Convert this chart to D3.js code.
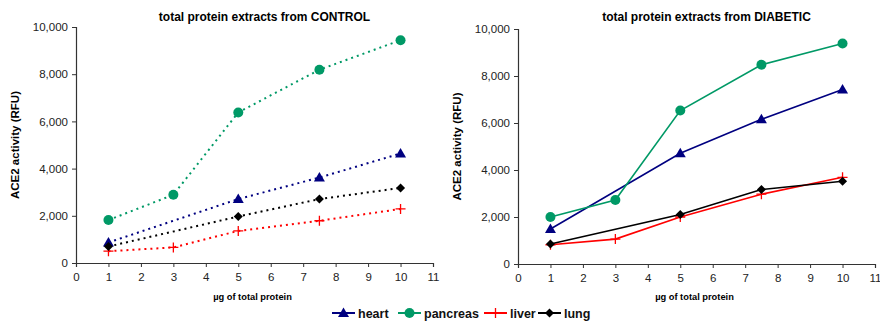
<!DOCTYPE html>
<html>
<head>
<meta charset="utf-8">
<script src="https://cdn.jsdelivr.net/npm/d3@7"></script>
<style>
body { margin: 0; background: #fff; }
svg { font-family: "Liberation Sans", Arial, sans-serif; }
</style>
</head>
<body>
<div id="chart"></div>
<script>
// doses (µg of total protein)
const doses = [1, 3, 5, 7.5, 10];
const seriesNames = ["heart", "pancreas", "liver", "lung"];
const xTicks = [0, 1, 2, 3, 4, 5, 6, 7, 8, 9, 10, 11];
const yTicks = [0, 2000, 4000, 6000, 8000, 10000];

// CONTROL panel (null = no point measured)
const ctrlHeart    = [870, null, 2710, 3620, 4640];
const ctrlPancreas = [1820, 2890, 6380, 8190, 9440];
const ctrlLiver    = [500, 660, 1360, 1790, 2290];
const ctrlLung     = [700, null, 1970, 2710, 3180];

// DIABETIC panel
const diabHeart    = [1490, null, 4710, 6160, 7430];
const diabPancreas = [2000, 2720, 6530, 8480, 9380];
const diabLiver    = [820, 1060, 2000, 2970, 3690];
const diabLung     = [850, null, 2110, 3170, 3520];

const colors = {heart: "#000080", pancreas: "#009966", liver: "#ff0000", lung: "#000000"};

const W = 880, H = 322;
const svg = d3.select("#chart").append("svg")
	.attr("width", W)
	.attr("height", H);

const panels = [
	{title: "total protein extracts from CONTROL", left: 76, right: 433, top: 27, bottom: 263, dashed: true,
	 data: {heart: ctrlHeart, pancreas: ctrlPancreas, liver: ctrlLiver, lung: ctrlLung}},
	{title: "total protein extracts from DIABETIC", left: 518, right: 875, top: 29, bottom: 264, dashed: false,
	 data: {heart: diabHeart, pancreas: diabPancreas, liver: diabLiver, lung: diabLung}}
];

function drawMarker(g, name, x, y) {
	const c = colors[name];
	if (name === "heart") {
		g.append("path").attr("d", "M" + x + "," + (y - 5.5) + "L" + (x + 5.5) + "," + (y + 4) + "L" + (x - 5.5) + "," + (y + 4) + "Z")
			.attr("fill", c);
	} else if (name === "pancreas") {
		g.append("circle").attr("cx", x).attr("cy", y).attr("r", 5).attr("fill", c);
	} else if (name === "liver") {
		g.append("path").attr("d", "M" + (x - 5) + "," + y + "H" + (x + 5) + "M" + x + "," + (y - 5) + "V" + (y + 5))
			.attr("stroke", c).attr("stroke-width", 1.3);
	} else {
		g.append("path").attr("d", "M" + x + "," + (y - 4.5) + "L" + (x + 4.5) + "," + y + "L" + x + "," + (y + 4.5) + "L" + (x - 4.5) + "," + y + "Z")
			.attr("fill", c);
	}
}

panels.forEach(p => {
	const x = d3.scaleLinear().domain([0, 11]).range([p.left, p.right]);
	const y = d3.scaleLinear().domain([0, 10000]).range([p.bottom, p.top]);
	const g = svg.append("g");

	// axes
	const xAxis = g.append("g")
		.attr("transform", "translate(0," + p.bottom + ")")
		.call(d3.axisBottom(x).tickValues(xTicks).tickSize(4).tickPadding(6));
	const yAxis = g.append("g")
		.attr("transform", "translate(" + p.left + ",0)")
		.call(d3.axisLeft(y).tickValues(yTicks).tickSize(4).tickPadding(4).tickFormat(d3.format(",")));
	[xAxis, yAxis].forEach(a => {
		a.select(".domain").attr("stroke", "#333").attr("stroke-width", 1.2);
		a.selectAll(".tick line").attr("stroke", "#333");
		a.selectAll("text").attr("font-size", 11.5).attr("fill", "#222")
			.attr("font-family", "'Liberation Sans', Arial, sans-serif");
	});

	// titles
	g.append("text").attr("x", (p.left + p.right) / 2 + 10).attr("y", 21)
		.attr("text-anchor", "middle").attr("font-size", 12).attr("font-weight", "bold")
		.text(p.title);
	g.append("text").attr("transform", "translate(" + (p.left - 57) + "," + ((p.top + p.bottom) / 2) + ") rotate(-90)")
		.attr("text-anchor", "middle").attr("font-size", 11.5).attr("font-weight", "bold")
		.text("ACE2 activity (RFU)");
	g.append("text").attr("x", (p.left + p.right) / 2 - 2).attr("y", 300)
		.attr("text-anchor", "middle").attr("font-size", 9.3).attr("font-weight", "bold")
		.text("\u00b5g of total protein");

	// series
	seriesNames.forEach(name => {
		const pts = doses.map((d, i) => ({x: d, y: p.data[name][i]})).filter(d => d.y !== null);
		const line = d3.line().x(d => x(d.x)).y(d => y(d.y));
		g.append("path").datum(pts)
			.attr("d", line)
			.attr("fill", "none")
			.attr("stroke", colors[name])
			.attr("stroke-width", p.dashed ? 2 : 1.6)
			.attr("stroke-dasharray", p.dashed ? "2,4" : null);
		pts.forEach(d => drawMarker(g, name, x(d.x), y(d.y)));
	});
});

// legend
const legendPos = [{name: "heart", x: 332}, {name: "pancreas", x: 398}, {name: "liver", x: 484}, {name: "lung", x: 538}];
const lg = svg.append("g");
legendPos.forEach(l => {
	const ly = 313;
	lg.append("line").attr("x1", l.x).attr("x2", l.x + 23).attr("y1", ly).attr("y2", ly)
		.attr("stroke", colors[l.name]).attr("stroke-width", 2);
	drawMarker(lg, l.name, l.x + 11.5, ly);
	lg.append("text").attr("x", l.x + 26).attr("y", ly + 4.5)
		.attr("font-size", 12.5).attr("font-weight", "bold").attr("fill", "#111")
		.text(l.name);
});
</script>
</body>
</html>
